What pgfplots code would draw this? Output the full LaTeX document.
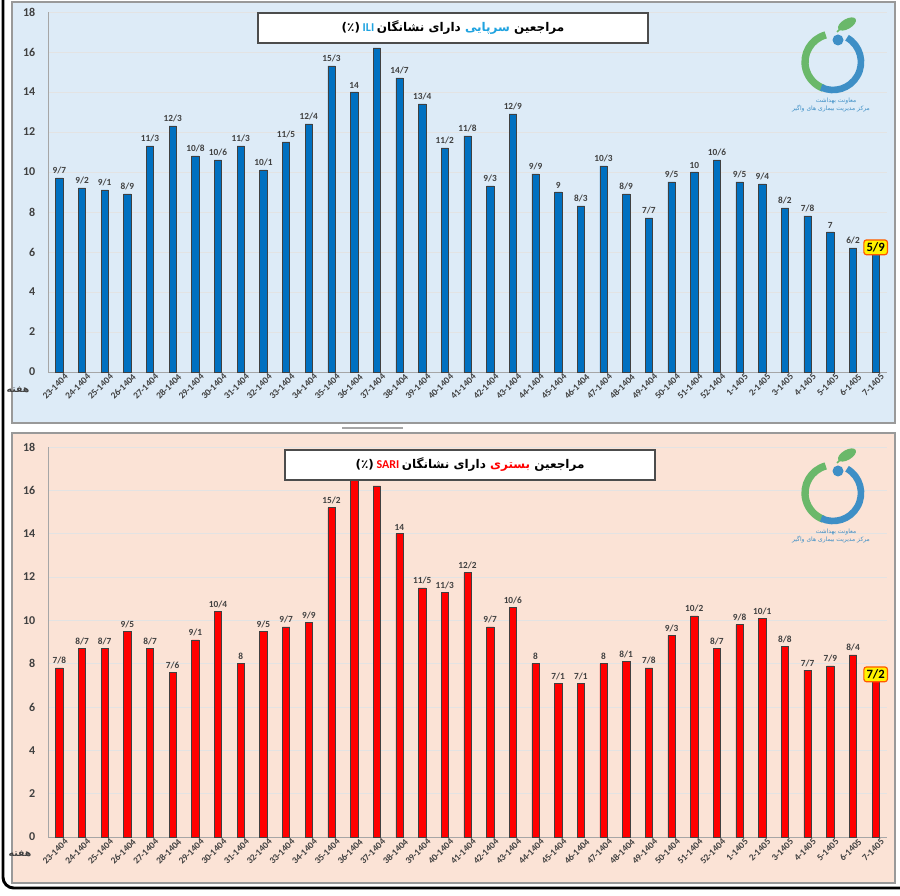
\documentclass[border=0pt]{standalone}
\usepackage{pgfplots}
\pgfplotsset{compat=1.18}
\usepackage{pgfplotstable}
\usepackage{fontspec}
\setmainfont{Carlito}
\newfontfamily\arabicfont[Script=Arabic]{DejaVu Sans}
\TeXXeTstate=1
\definecolor{topbg}{HTML}{DDEBF7}
\definecolor{botbg}{HTML}{FBE3D6}
\definecolor{barblue}{HTML}{0070C0}
\definecolor{barred}{HTML}{FF0000}
\definecolor{accblue}{HTML}{1FA3E0}
\definecolor{txt}{HTML}{404040}
\definecolor{lgreen}{HTML}{6AB86A}
\definecolor{lblue}{HTML}{3E8FC6}
\newcommand\rw[1]{\beginR #1\endR}

\pgfplotstableread{
x y lab
0 9.7 9/7
1 9.2 9/2
2 9.1 9/1
3 8.9 8/9
4 11.3 11/3
5 12.3 12/3
6 10.8 10/8
7 10.6 10/6
8 11.3 11/3
9 10.1 10/1
10 11.5 11/5
11 12.4 12/4
12 15.3 15/3
13 14 14
14 16.2 {}
15 14.7 14/7
16 13.4 13/4
17 11.2 11/2
18 11.8 11/8
19 9.3 9/3
20 12.9 12/9
21 9.9 9/9
22 9 9
23 8.3 8/3
24 10.3 10/3
25 8.9 8/9
26 7.7 7/7
27 9.5 9/5
28 10 10
29 10.6 10/6
30 9.5 9/5
31 9.4 9/4
32 8.2 8/2
33 7.8 7/8
34 7 7
35 6.2 6/2
36 5.9 {}
}\iliData

\pgfplotstableread{
x y lab
0 7.8 7/8
1 8.7 8/7
2 8.7 8/7
3 9.5 9/5
4 8.7 8/7
5 7.6 7/6
6 9.1 9/1
7 10.4 10/4
8 8 8
9 9.5 9/5
10 9.7 9/7
11 9.9 9/9
12 15.2 15/2
13 16.8 {}
14 16.2 {}
15 14 14
16 11.5 11/5
17 11.3 11/3
18 12.2 12/2
19 9.7 9/7
20 10.6 10/6
21 8 8
22 7.1 7/1
23 7.1 7/1
24 8 8
25 8.1 8/1
26 7.8 7/8
27 9.3 9/3
28 10.2 10/2
29 8.7 8/7
30 9.8 9/8
31 10.1 10/1
32 8.8 8/8
33 7.7 7/7
34 7.9 7/9
35 8.4 8/4
36 7.2 {}
}\sariData

\pgfplotsset{panel/.style={
  scale only axis, width=629.25pt,
  xmin=-0.5, xmax=36.5, ymin=0, ymax=18,
  ytick={0,2,...,18},
  xtick={0,...,36},
  xticklabels={23-1404,24-1404,25-1404,26-1404,27-1404,28-1404,29-1404,30-1404,31-1404,32-1404,33-1404,34-1404,35-1404,36-1404,37-1404,38-1404,39-1404,40-1404,41-1404,42-1404,43-1404,44-1404,45-1404,46-1404,47-1404,48-1404,49-1404,50-1404,51-1404,52-1404,1-1405,2-1405,3-1405,4-1405,5-1405,6-1405,7-1405},
  axis lines*=left,
  axis line style={draw=gray!70, line width=0.7pt},
  major tick length=0pt,
  ymajorgrids, grid style={draw=gray!22, line width=0.7pt},
  /pgf/number format/assume math mode=true,
  y tick label style={font=\bfseries\fontsize{9}{10}\selectfont, text=txt, xshift=-6pt},
  x tick label style={font=\bfseries\fontsize{7}{8}\selectfont, text=txt, rotate=45, anchor=north east, inner sep=1pt, xshift=3pt, yshift=-2pt},
  clip=false,
}}

\newcommand\logo[2]{%
  \begin{scope}[shift={(#1,#2)}]
    \draw[lgreen, line width=5.5pt] (105:28) arc (105:250:28);
    \draw[lblue, line width=5pt] (60:28) arc (60:-115:28);
    \fill[lblue] (5,22) circle (5.5);
    \fill[lgreen, rotate around={30:(14,38)}] (14,38) ellipse (10 and 5);
    \draw[lgreen, line width=1.2pt] (4,30) -- (10,36);
    \node[text=lblue, font=\arabicfont\fontsize{4.5}{5}\selectfont, inner sep=0pt] at (3,-39)
      {\rw{بهداشت} \rw{معاونت}};
    \node[text=lblue, font=\arabicfont\fontsize{4.5}{5}\selectfont, inner sep=0pt] at (-2,-47)
      {\rw{واگیر} \rw{های} \rw{بیماری} \rw{مدیریت} \rw{مرکز}};
  \end{scope}}

\begin{document}
\begin{tikzpicture}[x=0.75pt,y=0.75pt]
\path[use as bounding box] (0,0) rectangle (900,896);
% panels
\fill[topbg] (12,473) rectangle (895,894);
\draw[gray!80, line width=1pt] (12,473) rectangle (895,894);
\fill[botbg] (12,13) rectangle (895,463);
\draw[gray!80, line width=1pt] (12,13) rectangle (895,463);
\draw[gray!70, line width=2pt] (342,468) -- (403,468);
\draw[black, line width=2.2pt, rounded corners=8pt] (3,896) -- (3,8) -- (900,8);

% top axis
\begin{axis}[panel, at={(36pt,393pt)}, anchor=south west, height=270pt]
\addplot[ybar, bar width=5.5pt, bar shift=0pt, fill=barblue, draw=black!75, line width=0.4pt,
  point meta=explicit symbolic, nodes near coords,
  nodes near coords style={font=\bfseries\fontsize{7}{8}\selectfont, text=txt, inner sep=2.5pt}]
  table[x=x,y=y,meta=lab]{\iliData};
\addplot[ybar, bar width=5.5pt, bar shift=0pt, fill=barblue, draw=black!75, line width=0.4pt,
  nodes near coords={5/9},
  nodes near coords style={font=\bfseries\fontsize{9.5}{10}\selectfont, text=black, fill=yellow, draw=orange!70!red, rounded corners=2pt, line width=0.9pt, inner sep=2pt, anchor=south, yshift=-1pt}]
  coordinates {(36,5.9)};
\end{axis}

% bottom axis
\begin{axis}[panel, at={(36pt,44.25pt)}, anchor=south west, height=292.5pt]
\addplot[ybar, bar width=5.5pt, bar shift=0pt, fill=barred, draw=black!75, line width=0.4pt,
  point meta=explicit symbolic, nodes near coords,
  nodes near coords style={font=\bfseries\fontsize{7}{8}\selectfont, text=txt, inner sep=2.5pt}]
  table[x=x,y=y,meta=lab]{\sariData};
\addplot[ybar, bar width=5.5pt, bar shift=0pt, fill=barred, draw=black!75, line width=0.4pt,
  nodes near coords={7/2},
  nodes near coords style={font=\bfseries\fontsize{9.5}{10}\selectfont, text=black, fill=yellow, draw=orange!70!red, rounded corners=2pt, line width=0.9pt, inner sep=2pt, anchor=south, yshift=-1pt}]
  coordinates {(36,7.2)};
\end{axis}

% week labels
\node[font=\arabicfont\bfseries\fontsize{7}{8}\selectfont, text=txt] at (18,506) {\rw{هفته}};
\node[font=\arabicfont\bfseries\fontsize{7}{8}\selectfont, text=txt] at (20,42) {\rw{هفته}};

% titles
\draw[gray!60!black, line width=0.9pt, fill=white] (258,853) rectangle (648,883);
\node[font=\bfseries\fontsize{9}{10}\selectfont, text=black] at (453,868)
  {{\arabicfont(٪)} {\color{accblue}ILI} {\arabicfont\rw{نشانگان} \rw{دارای} {\color{accblue}\rw{سرپایی}} \rw{مراجعین}}};
\draw[gray!60!black, line width=0.9pt, fill=white] (285,416) rectangle (655,446);
\node[font=\bfseries\fontsize{9}{10}\selectfont, text=black] at (470,431)
  {{\arabicfont(٪)} {\color{barred}SARI} {\arabicfont\rw{نشانگان} \rw{دارای} {\color{barred}\rw{بستری}} \rw{مراجعین}}};

% logos
\logo{833}{834}
\logo{833}{403}
\end{tikzpicture}
\end{document}
